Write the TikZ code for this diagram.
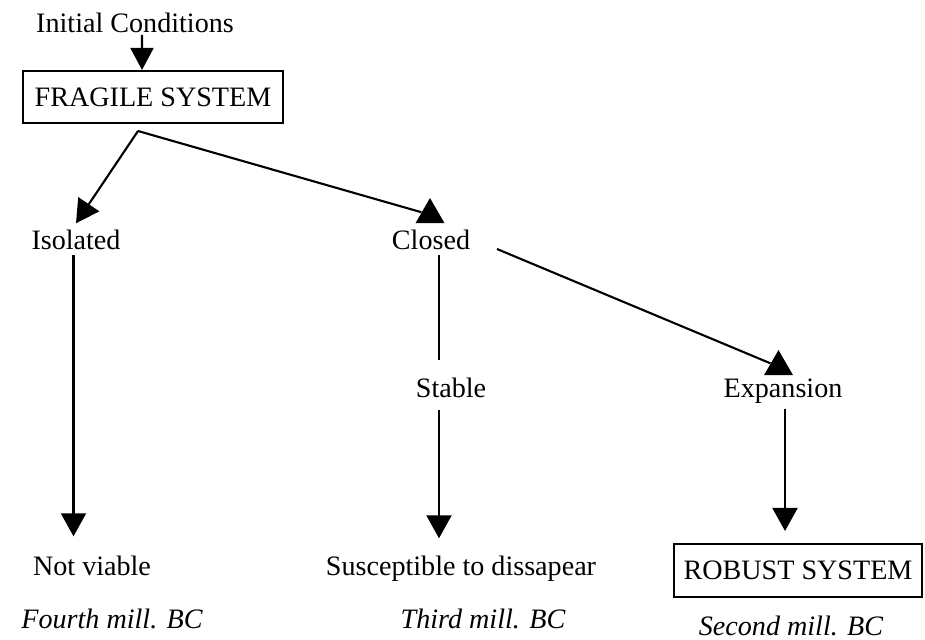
\documentclass[tikz,border=0pt]{standalone}
\usepackage{fontspec}
\setmainfont{Liberation Serif}
\usetikzlibrary{arrows.meta,shapes.geometric}

\tikzset{
  lbl/.style={anchor=base,font=\fontsize{16}{19}\selectfont},
  era/.style={lbl,font=\fontsize{16}{19}\selectfont\itshape},
  sysbox/.style={draw,line width=1.2pt,font=\fontsize{16}{19}\selectfont,inner sep=0pt},
  link/.style={line width=1.2pt},
  arr/.style={link,-{Triangle[width=0.5cm,length=0.46cm]}},
  smallarr/.style={link,-{Triangle[width=0.46cm,length=0.44cm]}},
  uptip/.style={regular polygon,regular polygon sides=3,fill=black,inner sep=0pt,minimum size=0.667cm},
}

\begin{document}
\begin{tikzpicture}[x=0.02cm,y=-0.02cm]
\useasboundingbox (0,0) rectangle (925,639);

% texts
\node[lbl] (init) at (135,32) {Initial Conditions};
\node[sysbox,minimum width=5.2cm,minimum height=1.04cm] (fragile) at (153,97) {FRAGILE SYSTEM};
\node[lbl] (isolated) at (76,249) {Isolated};
\node[lbl] (closed) at (431,249) {Closed};
\node[lbl] (stable) at (451,397) {Stable};
\node[lbl] (expansion) at (783,397) {Expansion};
\node[lbl] (notviable) at (92,575) {Not viable};
\node[lbl] (suscept) at (461,575) {Susceptible to dissapear};
\node[sysbox,minimum width=4.96cm,minimum height=1.06cm] (robust) at (798,570.5) {ROBUST SYSTEM};
\node[era] (fourth) at (112,628) {Fourth mill. BC};
\node[era] (third) at (483,628) {Third mill. BC};
\node[era] (second) at (791,635) {Second mill. BC};

% upright heads
\node[uptip] (ctip) at (430,214.7) {};
\node[uptip] (etip) at (778.5,366.7) {};

\coordinate (split) at (138,131);
\coordinate (cout) at (497,249);
\coordinate (colA) at (73.5,0);
\coordinate (colB) at (439,0);
\coordinate (colC) at (785,0);

% connectors
\draw[smallarr,shorten <=-0.07cm] ([xshift=0.14cm]init.south) -- ([xshift=-0.22cm]fragile.north);
\draw[arr] (split) -- (isolated.north);
\draw[link] (split) -- (ctip);
\draw[link] (cout) -- (etip);
\draw[arr,shorten >=0.26cm] (isolated.south -| colA) -- (notviable.north -| colA);
\draw[link,shorten >=0.22cm] (closed.south -| colB) -- (stable.north -| colB);
\draw[arr,shorten <=0.13cm,shorten >=0.22cm] (stable.south -| colB) -- (suscept.north -| colB);
\draw[arr,shorten >=0.24cm] (expansion.south -| colC) -- (robust.north -| colC);
\end{tikzpicture}
\end{document}
